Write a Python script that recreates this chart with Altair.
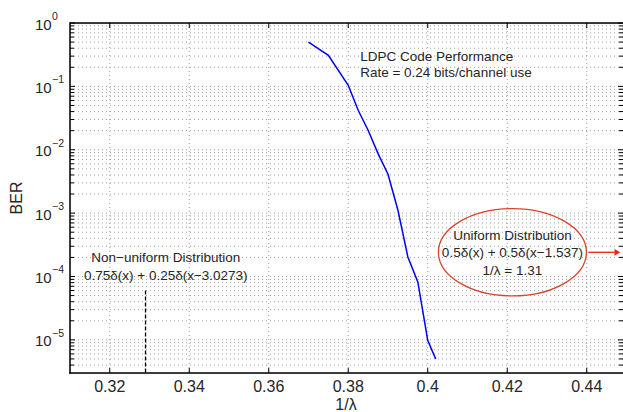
import altair as alt
import pandas as pd

FONT = "Liberation Sans"
TXT = "#262626"
W, H = 553, 350

# ---- data ----
curve_x = [0.370, 0.375, 0.380, 0.3825, 0.385, 0.3875, 0.390, 0.3925, 0.395, 0.3975, 0.400, 0.402]
curve_ber = [0.50, 0.309, 0.104, 0.042, 0.0203, 0.0087, 0.0041, 0.00111, 2.03e-4, 8.2e-5, 9.8e-6, 5.0e-6]

x_ticks = [0.32, 0.34, 0.36, 0.38, 0.40, 0.42, 0.44]
x_tick_labels = ["0.32", "0.34", "0.36", "0.38", "0.4", "0.42", "0.44"]
y_major = [1, 0.1, 0.01, 0.001, 1e-4, 1e-5]
y_exp_labels = ["0", "−1", "−2", "−3", "−4", "−5"]
y_base_labels = ["10", "10", "10", "10", "10", "10"]
y_minor = [m * 10.0 ** k for k in range(-6, 0) for m in range(2, 10) if 3e-6 < m * 10.0 ** k < 1]
y_grid = sorted(y_major + y_minor)

x_title = ["1/λ"]
y_title = ["BER"]

dash_x = [0.329]
dash_top = [6e-5]
dash_bottom = [3e-6]

ldpc_text = ["LDPC Code Performance", "Rate = 0.24 bits/channel use"]
ldpc_x = [0.383, 0.383]
ldpc_y = [0.29, 0.165]

nonuni_text = ["Non−uniform Distribution", "0.75δ(x) + 0.25δ(x−3.0273)"]
nonuni_x = [0.3341, 0.3341]
nonuni_y = [1.93e-4, 1.0e-4]

uni_text = ["Uniform Distribution", "0.5δ(x) + 0.5δ(x−1.537)", "1/λ = 1.31"]
uni_x = [0.4213, 0.4213, 0.4213]
uni_y = [4.3e-4, 2.38e-4, 1.22e-4]

ellipse_x = [0.4213]
ellipse_y = [2.41e-4]
arrow_x = [0.4404]
arrow_x2 = [0.4470]
arrow_head_x = [0.4477]

# ---- scales ----
xs = alt.Scale(domain=[0.31, 0.44912], nice=False, zero=False)
ys = alt.Scale(type="log", domain=[3e-6, 1], nice=False)


def X(f):
    return alt.X(f, scale=xs, axis=None)


def Y(f):
    return alt.Y(f, scale=ys, axis=None)


# grid
grid_style = dict(color="#a0a0a0", strokeWidth=1, strokeDash=[1, 3])
xt_df = pd.DataFrame({"v": x_ticks, "lab": x_tick_labels})
yg_df = pd.DataFrame({"v": y_grid})
grid_v = alt.Chart(xt_df).mark_rule(**grid_style).encode(
    x=X("v:Q"), y=alt.value(0), y2=alt.value(H))
grid_h = alt.Chart(yg_df).mark_rule(**grid_style).encode(
    y=Y("v:Q"), x=alt.value(0), x2=alt.value(W))

curve_df = pd.DataFrame({"x": curve_x, "ber": curve_ber})
curve = alt.Chart(curve_df).mark_line(color="#0000ff", strokeWidth=1.5).encode(
    x=X("x:Q"), y=Y("ber:Q"))

# frame (left, bottom, top)
one = pd.DataFrame({"v": [0]})
frame_style = dict(color="black", strokeWidth=1.5)
top_border = alt.Chart(one).mark_rule(**frame_style).encode(
    y=alt.value(0), x=alt.value(0), x2=alt.value(W))
bottom_border = alt.Chart(one).mark_rule(**frame_style).encode(
    y=alt.value(H), x=alt.value(-0.75), x2=alt.value(W))
left_border = alt.Chart(one).mark_rule(**frame_style).encode(
    x=alt.value(0), y=alt.value(-0.75), y2=alt.value(H + 0.75))

# inward tick marks
ymaj_df = pd.DataFrame({"v": y_major})
ymin_df = pd.DataFrame({"v": y_minor})
tick_style = dict(color="black", strokeWidth=1)
xb = alt.Chart(xt_df).mark_rule(**tick_style).encode(
    x=X("v:Q"), y=alt.value(H), y2=alt.value(H - 5))
xtp = alt.Chart(xt_df).mark_rule(**tick_style).encode(
    x=X("v:Q"), y=alt.value(0), y2=alt.value(5))
yl_maj = alt.Chart(ymaj_df).mark_rule(**tick_style).encode(
    y=Y("v:Q"), x=alt.value(0), x2=alt.value(5))
yl_min = alt.Chart(ymin_df).mark_rule(**tick_style).encode(
    y=Y("v:Q"), x=alt.value(0), x2=alt.value(4))
yr_maj = alt.Chart(ymaj_df).mark_rule(**tick_style).encode(
    y=Y("v:Q"), x=alt.value(W - 5), x2=alt.value(W))
yr_min = alt.Chart(ymin_df).mark_rule(**tick_style).encode(
    y=Y("v:Q"), x=alt.value(W - 4), x2=alt.value(W))

# x tick labels
xlab = alt.Chart(xt_df).mark_text(
    font=FONT, fontSize=16, color=TXT, align="center", baseline="top"
).encode(x=X("v:Q"), y=alt.value(H + 6), text="lab:N")

# y tick labels 10^k
ylab_df = pd.DataFrame({"v": y_major, "base": y_base_labels, "exp": y_exp_labels})
ylab_base = alt.Chart(ylab_df).mark_text(
    font=FONT, fontSize=15, color=TXT, align="left", baseline="middle", dy=1.5
).encode(y=Y("v:Q"), x=alt.value(-35), text="base:N")
ylab_exp = alt.Chart(ylab_df).mark_text(
    font=FONT, fontSize=10.5, color=TXT, align="left", baseline="middle", dy=-6
).encode(y=Y("v:Q"), x=alt.value(-18), text="exp:N")

# axis titles
xtitle = alt.Chart(pd.DataFrame({"t": x_title})).mark_text(
    font=FONT, fontSize=16, color=TXT, align="center", baseline="alphabetic"
).encode(x=alt.value(276), y=alt.value(H + 37), text="t:N")
ytitle = alt.Chart(pd.DataFrame({"t": y_title})).mark_text(
    font=FONT, fontSize=16, color=TXT, align="center", baseline="middle", angle=270
).encode(x=alt.value(-53), y=alt.value(H / 2), text="t:N")

# dashed line
dash_df = pd.DataFrame({"x": dash_x, "y1": dash_top, "y2": dash_bottom})
dash = alt.Chart(dash_df).mark_rule(color="black", strokeWidth=1.3, strokeDash=[4, 2]).encode(
    x=X("x:Q"), y=Y("y1:Q"), y2="y2:Q")

# annotations
ldpc = alt.Chart(pd.DataFrame({"t": ldpc_text, "x": ldpc_x, "y": ldpc_y})).mark_text(
    font=FONT, fontSize=13.5, color=TXT, align="left", baseline="middle"
).encode(x=X("x:Q"), y=Y("y:Q"), text="t:N")
nonuni = alt.Chart(pd.DataFrame({"t": nonuni_text, "x": nonuni_x, "y": nonuni_y})).mark_text(
    font=FONT, fontSize=13.5, color=TXT, align="center", baseline="middle"
).encode(x=X("x:Q"), y=Y("y:Q"), text="t:N")
uni = alt.Chart(pd.DataFrame({"t": uni_text, "x": uni_x, "y": uni_y})).mark_text(
    font=FONT, fontSize=13.5, color=TXT, align="center", baseline="middle"
).encode(x=X("x:Q"), y=Y("y:Q"), text="t:N")

k = 0.5523
ry = 0.59
ellipse_path = (
    f"M -1 0 C -1 {-k*ry:.4f} {-k:.4f} {-ry} 0 {-ry} "
    f"C {k:.4f} {-ry} 1 {-k*ry:.4f} 1 0 "
    f"C 1 {k*ry:.4f} {k:.4f} {ry} 0 {ry} "
    f"C {-k:.4f} {ry} -1 {k*ry:.4f} -1 0 Z"
)
ell = alt.Chart(pd.DataFrame({"x": ellipse_x, "y": ellipse_y})).mark_point(
    shape=ellipse_path, size=148 * 148, filled=False, stroke="#d9452b",
    strokeWidth=1.3, opacity=1
).encode(x=X("x:Q"), y=Y("y:Q"))

arrow = alt.Chart(pd.DataFrame({"x": arrow_x, "x2": arrow_x2, "y": ellipse_y})).mark_rule(
    color="#e8221c", strokeWidth=1.3
).encode(x=X("x:Q"), x2="x2:Q", y=Y("y:Q"))
head = alt.Chart(pd.DataFrame({"x": arrow_head_x, "y": ellipse_y})).mark_point(
    shape="triangle-right", size=45, filled=True, color="#e8221c", opacity=1
).encode(x=X("x:Q"), y=Y("y:Q"))

chart = alt.layer(
    grid_v, grid_h, curve, top_border, bottom_border, left_border,
    xb, xtp, yl_maj, yl_min, yr_maj, yr_min,
    xlab, ylab_base, ylab_exp, xtitle, ytitle,
    dash, ldpc, nonuni, uni, ell, arrow, head,
).properties(
    width=W, height=H, autosize="none",
    padding={"left": 70, "top": 23, "right": 0, "bottom": 39},
).configure_view(stroke=None).configure(background="white")

chart.save("out.html", embed_options={"renderer": "svg", "actions": False})
